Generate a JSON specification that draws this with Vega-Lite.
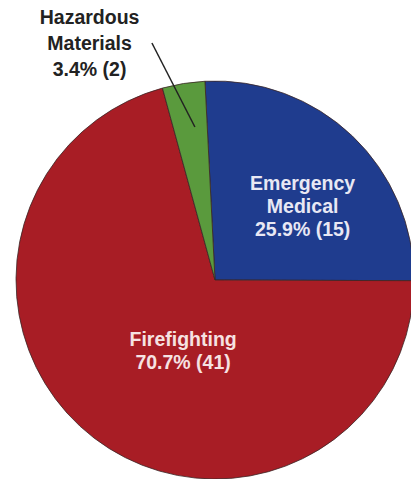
{
  "$schema": "https://vega.github.io/schema/vega-lite/v6.json",
  "width": 398,
  "height": 398,
  "autosize": {"type": "none"},
  "padding": {"left": 16, "top": 81, "right": 0, "bottom": 0},
  "background": "white",
  "config": {"view": {"stroke": null}},
  "datasets": {
    "slices": [
      {"category": "Emergency Medical", "count": 15, "order": 1, "label": "Emergency\nMedical\n25.9% (15)"},
      {"category": "Firefighting", "count": 41, "order": 2, "label": "Firefighting\n70.7% (41)"},
      {"category": "Hazardous Materials", "count": 2, "order": 3, "label": "Hazardous\nMaterials\n3.4% (2)"}
    ],
    "leader": [
      {"lx": -0.317, "ly": 1.191},
      {"lx": -0.101, "ly": 0.769}
    ]
  },
  "layer": [
    {
      "data": {"name": "slices"},
      "mark": {"type": "arc", "stroke": "#3a2626", "strokeWidth": 0.8},
      "encoding": {
        "theta": {"field": "count", "type": "quantitative", "stack": true, "scale": {"range": [-0.0506, 6.2326]}},
        "order": {"field": "order", "type": "quantitative"},
        "color": {
          "field": "category", "type": "nominal", "legend": null,
          "scale": {"domain": ["Emergency Medical", "Firefighting", "Hazardous Materials"], "range": ["#1f3c8e", "#a81d25", "#5a9a3d"]}
        }
      }
    },
    {
      "data": {"name": "slices"},
      "mark": {"type": "text", "radius": 114, "thetaOffset": 0.115, "dy": -23, "font": "Liberation Sans", "fontWeight": "bold", "fontSize": 19.5, "lineHeight": 23, "lineBreak": "\n", "align": "center", "baseline": "middle", "fill": "#e8e8f4"},
      "encoding": {
        "theta": {"field": "count", "type": "quantitative", "stack": true},
        "order": {"field": "order", "type": "quantitative"},
        "text": {"condition": {"test": "datum.category === 'Emergency Medical'", "field": "label"}, "value": ""}
      }
    },
    {
      "data": {"name": "slices"},
      "mark": {"type": "text", "radius": 78, "thetaOffset": -0.232, "dy": -11.5, "font": "Liberation Sans", "fontWeight": "bold", "fontSize": 19.5, "lineHeight": 23, "lineBreak": "\n", "align": "center", "baseline": "middle", "fill": "#f6e2e2"},
      "encoding": {
        "theta": {"field": "count", "type": "quantitative", "stack": true},
        "order": {"field": "order", "type": "quantitative"},
        "text": {"condition": {"test": "datum.category === 'Firefighting'", "field": "label"}, "value": ""}
      }
    },
    {
      "data": {"name": "slices"},
      "mark": {"type": "text", "radius": 267, "thetaOffset": -0.33, "dy": -26, "font": "Liberation Sans", "fontWeight": "bold", "fontSize": 19.5, "lineHeight": 26, "lineBreak": "\n", "align": "center", "baseline": "middle", "fill": "#222222"},
      "encoding": {
        "theta": {"field": "count", "type": "quantitative", "stack": true},
        "order": {"field": "order", "type": "quantitative"},
        "text": {"condition": {"test": "datum.category === 'Hazardous Materials'", "field": "label"}, "value": ""}
      }
    },
    {
      "data": {"name": "leader"},
      "mark": {"type": "line", "color": "#222222", "strokeWidth": 1.5},
      "encoding": {
        "x": {"field": "lx", "type": "quantitative", "axis": null, "scale": {"domain": [-1, 1], "nice": false, "zero": false}},
        "y": {"field": "ly", "type": "quantitative", "axis": null, "scale": {"domain": [-1, 1], "nice": false, "zero": false}}
      }
    }
  ]
}
